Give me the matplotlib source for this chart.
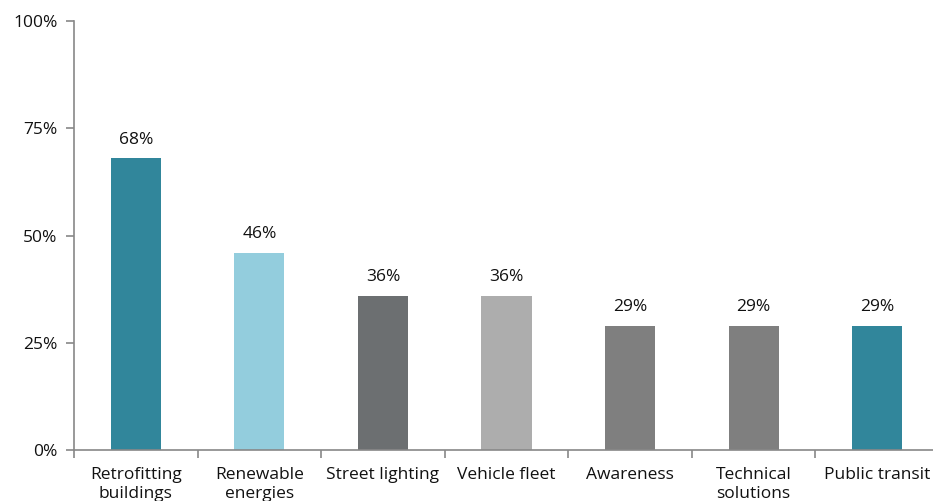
import matplotlib.pyplot as plt
import numpy as np

categorias = ['Retrofitting\nbuildings', 'Renewable\nenergies', 'Street lighting',
              'Vehicle fleet', 'Awareness', 'Technical\nsolutions', 'Public transit']
valores = [68, 46, 36, 36, 29, 29, 29]
cores = ['#31869B', '#93CDDD', '#6C6F71', '#ADADAD', '#7F7F7F', '#7F7F7F', '#31869B']

plt.rcParams['font.family'] = ['Open Sans', 'DejaVu Sans']
tam = 12.5

fig = plt.figure(figsize=(9.33, 5.01), dpi=100)
W, H = 933, 501
esq, dir_, base, topo = 74, 939, 450, 21
ax = fig.add_axes([esq / W, (H - base) / H, (dir_ - esq) / W, (base - topo) / H])

x = np.arange(len(categorias))
barras = ax.bar(x, valores, width=0.405, color=cores)
for xi, v in zip(x, valores):
    ax.text(xi, v + 2.4, f'{v}%', ha='center', va='bottom', fontsize=tam, color='#111111')

ax.set_xlim(-0.5, len(categorias) - 0.5)
ax.set_ylim(0, 100)
ax.set_yticks([0, 25, 50, 75, 100])
ax.set_yticklabels(['0%', '25%', '50%', '75%', '100%'], fontsize=tam, color='#111111')

# ticks nas divisões das categorias, rótulos no centro
ax.set_xticks(np.arange(-0.5, len(categorias), 1.0))
ax.set_xticklabels([])
ax.set_xticks(x, minor=True)
ax.set_xticklabels(categorias, minor=True, fontsize=tam, color='#111111', linespacing=1.3)
ax.tick_params(axis='x', which='minor', length=0, pad=12)
ax.tick_params(axis='x', which='major', length=6, color='#888888', width=1.2)
ax.tick_params(axis='y', length=6, color='#888888', width=1.2, pad=6)

for lado in ['top', 'right']:
    ax.spines[lado].set_visible(False)
for lado in ['left', 'bottom']:
    ax.spines[lado].set_color('#888888')
    ax.spines[lado].set_linewidth(1.2)

fig.savefig('out.png', dpi=100, facecolor='white')
